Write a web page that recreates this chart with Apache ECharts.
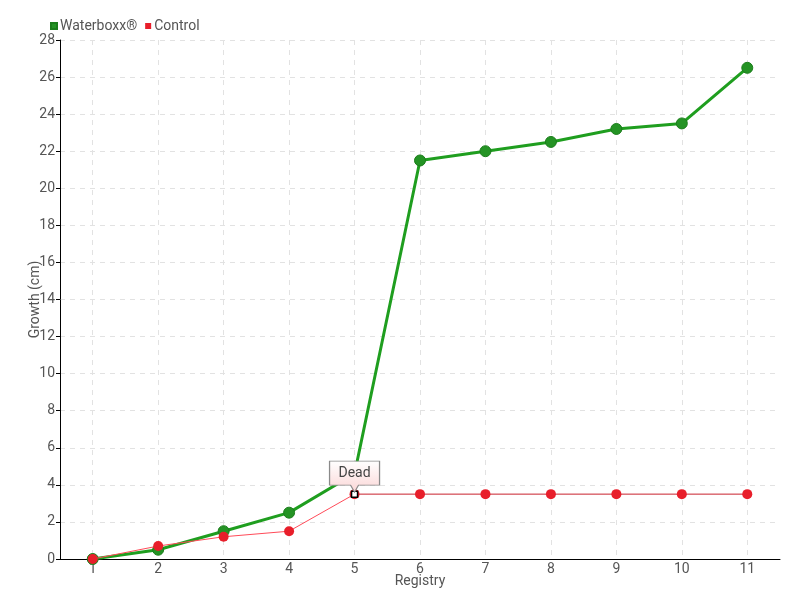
<!DOCTYPE html>
<html><head><meta charset="utf-8">
<script src="https://cdn.jsdelivr.net/npm/echarts@6/dist/echarts.min.js"></script>
<style>html,body{margin:0;padding:0;background:#fff}#c{width:800px;height:600px}</style>
</head><body><div id="c"></div>
<script>
const categories = ['1','2','3','4','5','6','7','8','9','10','11'];
const waterboxx = [0, 0.5, 1.5, 2.5, 4.6, 21.5, 22, 22.5, 23.2, 23.5, 26.5];
const control = [0, 0.7, 1.2, 1.5, 3.5, 3.5, 3.5, 3.5, 3.5, 3.5, 3.5];
const deadIndex = 4;
const yTicks = [0, 28, 2];

const FONT = 'Roboto, "Liberation Sans Narrow", sans-serif';
const chart = echarts.init(document.getElementById('c'));
chart.setOption({
  animation: false,
  textStyle: {fontFamily: FONT, color: '#555'},
  legend: {
    left: 45, top: 14, itemWidth: 6, itemHeight: 6, itemGap: 8, icon: 'rect',
    textStyle: {fontFamily: FONT, fontSize: 14, color: '#555', padding: [0,0,0,-2]},
    data: ['Waterboxx®', 'Control']
  },
  grid: {left: 60, right: 20, top: 40, bottom: 41, containLabel: false},
  xAxis: {
    type: 'category', data: categories, boundaryGap: true,
    name: 'Registry', nameLocation: 'middle', nameGap: 15, nameMoveOverlap: false,
    nameTextStyle: {fontFamily: FONT, fontSize: 14, color: '#555'},
    axisLine: {lineStyle: {color: '#000', width: 1}},
    axisTick: {show: false, alignWithLabel: true},
    axisLabel: {fontFamily: FONT, fontSize: 14, color: '#555', margin: 3},
    splitLine: {show: true, alignWithLabel: true, lineStyle: {color: '#e2e2e2', type: [5, 5]}}
  },
  yAxis: {
    type: 'value', min: yTicks[0], max: yTicks[1], interval: yTicks[2],
    name: 'Growth (cm)', nameLocation: 'middle', nameGap: 18, nameMoveOverlap: false,
    nameTextStyle: {fontFamily: FONT, fontSize: 14, color: '#555'},
    axisLine: {show: true, lineStyle: {color: '#000', width: 1}},
    axisTick: {show: true, length: 4, lineStyle: {color: '#000'}},
    axisLabel: {fontFamily: FONT, fontSize: 14, color: '#555', margin: 5},
    splitLine: {show: true, lineStyle: {color: '#e2e2e2', type: [5, 5]}}
  },
  series: [
    {
      name: 'Waterboxx®', type: 'line', data: waterboxx, z: 3,
      symbol: 'circle', symbolSize: 11,
      lineStyle: {color: '#1f9e1f', width: 3},
      itemStyle: {color: '#249324', borderColor: '#1b7d1b', borderWidth: 1}
    },
    {
      name: 'Control', type: 'line', data: control, z: 4,
      symbol: 'circle', symbolSize: 10,
      lineStyle: {width: 1, color: new echarts.graphic.LinearGradient(0, 0, 1, 0, [
        {offset: 0, color: '#ff4a58'}, {offset: 0.4, color: '#ff4a58'},
        {offset: 0.4, color: '#c8202c'}, {offset: 1, color: '#c8202c'}
      ])},
      itemStyle: {color: '#e81e2a'},
      markPoint: {
        silent: true,
        data: [
          {coord: [deadIndex, control[deadIndex]], symbol: 'rect', symbolSize: 6,
           itemStyle: {color: '#fff', borderColor: '#000', borderWidth: 1.5}, label: {show: false}},
          {coord: [deadIndex, control[deadIndex]], value: 'Dead',
           symbol: 'path://M0,0 L50,0 L50,24 L29,24 L25,31 L21,24 L0,24 Z',
           symbolSize: [50, 31], symbolOffset: [0, -17.5],
           itemStyle: {
             color: new echarts.graphic.LinearGradient(0, 0, 0, 1, [
               {offset: 0, color: '#ffffff'}, {offset: 1, color: '#fbd6d6'}]),
             borderColor: '#8a8a8a', borderWidth: 1
           },
           label: {show: true, formatter: 'Dead', position: 'inside', offset: [0, -3],
             fontFamily: FONT, fontSize: 14, color: '#444'}}
        ]
      }
    }
  ]
});
</script></body></html>
